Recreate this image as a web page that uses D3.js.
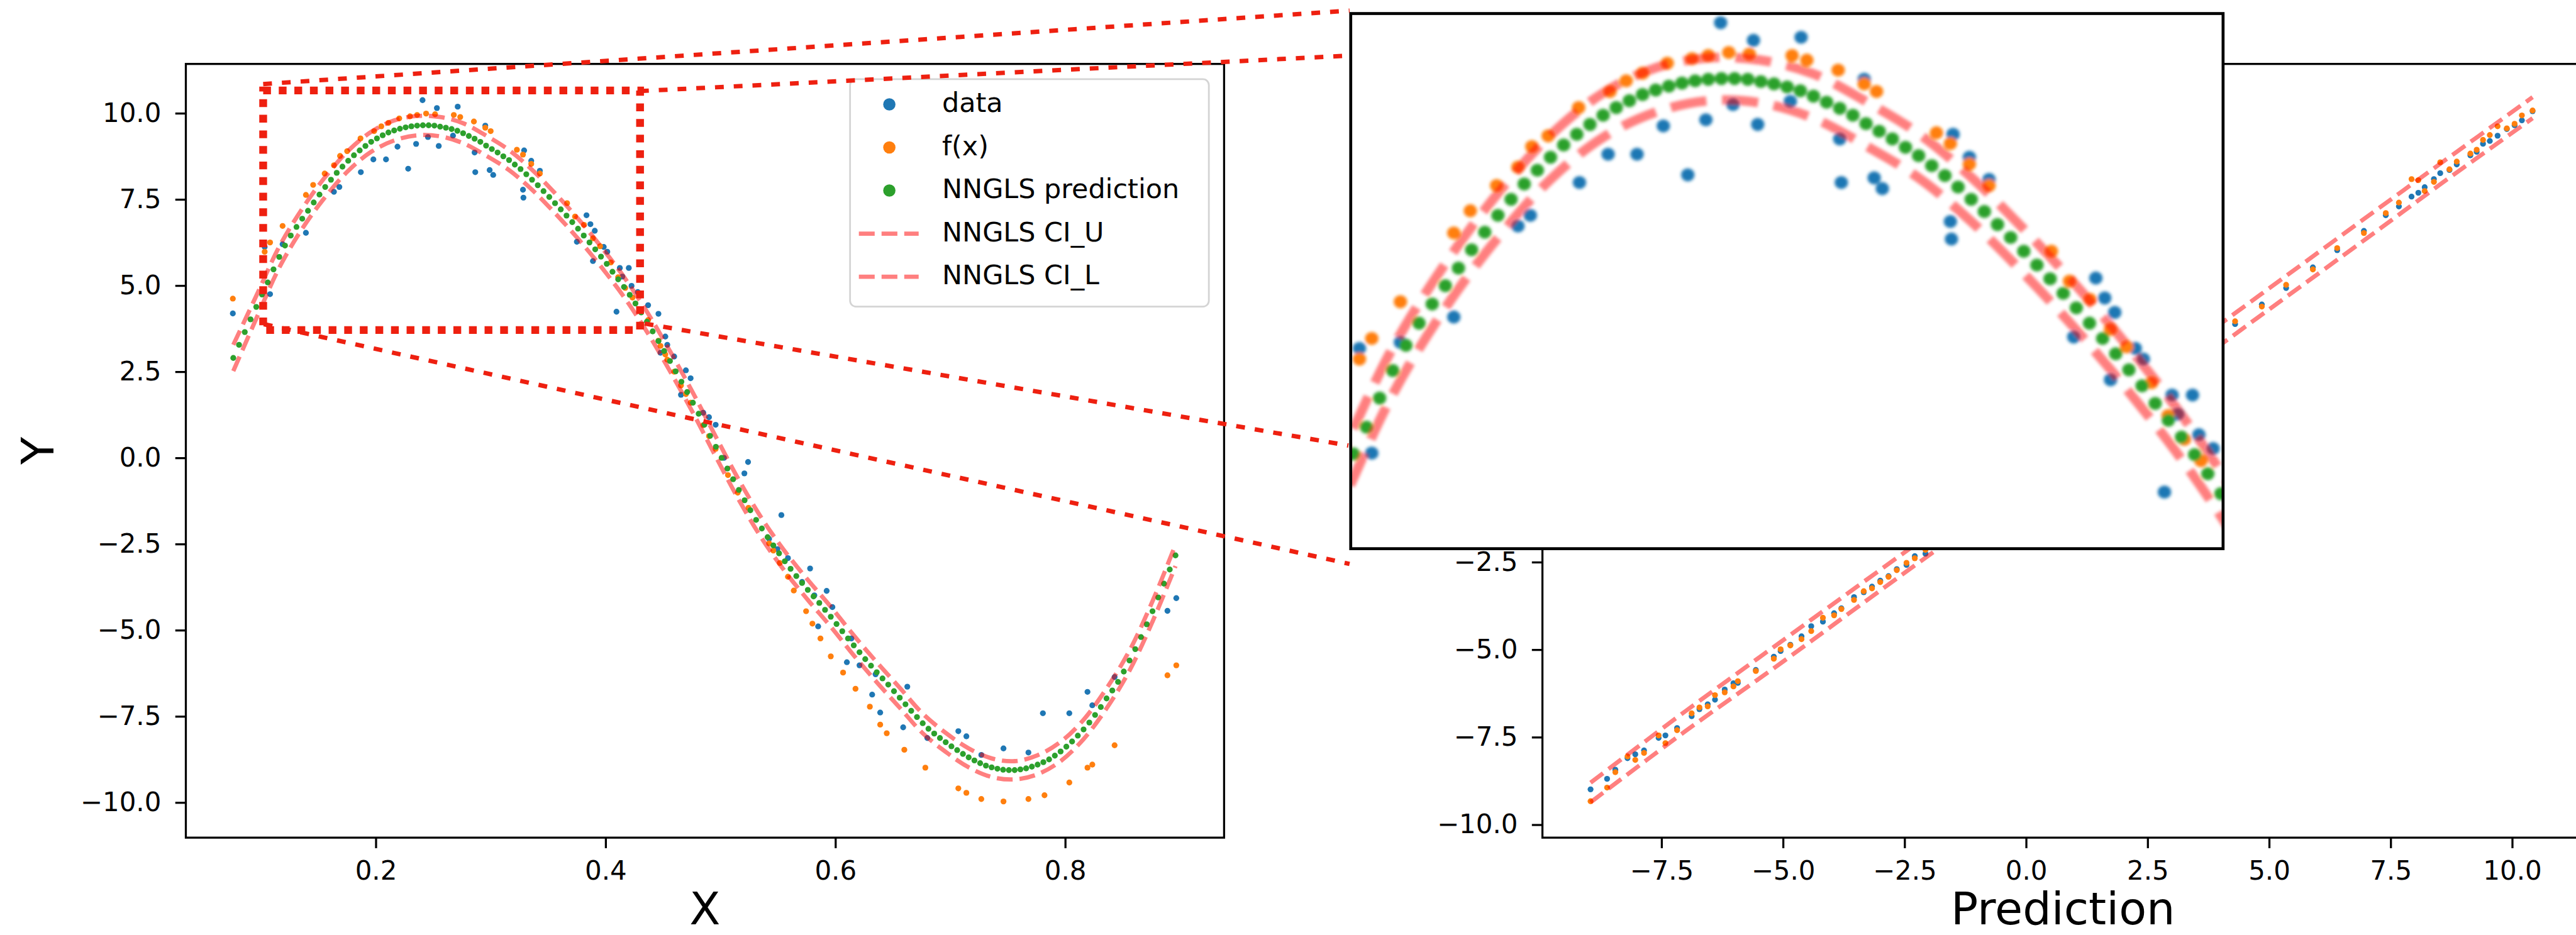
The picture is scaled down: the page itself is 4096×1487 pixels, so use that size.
<!DOCTYPE html>
<html>
<head>
<meta charset="utf-8">
<script src="https://cdn.jsdelivr.net/npm/d3@7"></script>
<style>
  body { margin: 0; background: #fff; overflow: hidden; }
  svg { display: block; }
  text { font-family: "DejaVu Sans", sans-serif; fill: #000; }
</style>
</head>
<body>
<svg id="chart"></svg>
<script>
// ---- left panel: training points (data and f(x) share the same x locations roughly)
const dataX = [0.0756, 0.1033, 0.108, 0.1189, 0.1392, 0.1636, 0.1683, 0.1870, 0.1979, 0.2089, 0.2189, 0.2282, 0.2351, 0.2407, 0.2454, 0.2532, 0.2548, 0.2672, 0.2713, 0.2860, 0.2866, 0.2953, 0.2991, 0.3022, 0.3281, 0.3285, 0.3291, 0.3353, 0.3428, 0.3750, 0.3834, 0.3868, 0.3890, 0.3906, 0.3984, 0.4015, 0.4095, 0.4124, 0.4146, 0.4202, 0.4226, 0.4280, 0.4370, 0.4460, 0.4478, 0.4520, 0.4537, 0.4597, 0.4656, 0.4699, 0.4740, 0.4850, 0.4900, 0.4958, 0.5030, 0.5208, 0.5240, 0.5423, 0.5495, 0.5530, 0.5587, 0.5710, 0.5780, 0.5817, 0.5850, 0.5924, 0.5974, 0.6100, 0.6139, 0.6210, 0.6320, 0.6350, 0.6390, 0.6590, 0.6626, 0.6800, 0.7070, 0.7140, 0.7270, 0.7463, 0.7680, 0.7806, 0.8036, 0.8194, 0.8236, 0.8430, 0.8890, 0.8967];
const dataY = [4.19, 6.12, 4.75, 6.20, 6.53, 7.72, 7.86, 8.29, 8.66, 8.66, 9.03, 8.39, 9.11, 10.38, 9.31, 10.15, 9.05, 9.35, 10.19, 8.86, 8.29, 9.64, 8.35, 8.21, 7.78, 7.55, 8.92, 8.62, 8.33, 6.27, 7.04, 6.78, 5.71, 6.59, 6.12, 5.98, 4.24, 5.51, 5.26, 5.51, 4.99, 4.81, 4.43, 4.18, 3.05, 3.52, 3.28, 2.94, 1.83, 2.54, 2.31, 1.31, 1.18, 0.96, 0.00, -0.45, -0.12, -2.35, -2.65, -1.66, -2.91, -3.60, -3.21, -3.99, -4.89, -3.86, -4.33, -5.93, -5.24, -6.02, -6.87, -6.28, -7.39, -7.82, -6.64, -8.13, -7.93, -8.08, -8.62, -8.43, -8.55, -7.41, -7.41, -6.79, -7.18, -6.36, -4.44, -4.07];

const fxX = [0.0756, 0.1033, 0.108, 0.1189, 0.1392, 0.1455, 0.1555, 0.1636, 0.1689, 0.1751, 0.1867, 0.1986, 0.2048, 0.2110, 0.2204, 0.2298, 0.2360, 0.2438, 0.2516, 0.2679, 0.2735, 0.2854, 0.2953, 0.3000, 0.3228, 0.3281, 0.3353, 0.3428, 0.3665, 0.3734, 0.3812, 0.3890, 0.3952, 0.4046, 0.4109, 0.4171, 0.4234, 0.4370, 0.4460, 0.4478, 0.4520, 0.4537, 0.4597, 0.4656, 0.4699, 0.4740, 0.4850, 0.4900, 0.4958, 0.5065, 0.5150, 0.5244, 0.5423, 0.5460, 0.5516, 0.5587, 0.5638, 0.5745, 0.5800, 0.5870, 0.5960, 0.6067, 0.6175, 0.6300, 0.6390, 0.6447, 0.6600, 0.6783, 0.7070, 0.7140, 0.7270, 0.7463, 0.7680, 0.7820, 0.8036, 0.8194, 0.8236, 0.8430, 0.8890, 0.8967];
const fxY = [4.62, 5.98, 6.25, 6.73, 7.63, 7.92, 8.25, 8.49, 8.76, 8.90, 9.27, 9.48, 9.62, 9.72, 9.85, 9.91, 9.95, 9.99, 9.97, 9.95, 9.89, 9.76, 9.58, 9.48, 8.94, 8.80, 8.53, 8.25, 7.39, 7.00, 6.76, 6.37, 6.14, 5.67, 5.24, 4.93, 4.65, 4.00, 3.40, 3.25, 3.00, 2.85, 2.50, 2.10, 1.85, 1.60, 0.95, 0.63, 0.26, -0.50, -1.01, -1.45, -2.48, -2.69, -3.05, -3.45, -3.85, -4.45, -4.81, -5.24, -5.76, -6.23, -6.70, -7.22, -7.74, -7.99, -8.47, -8.99, -9.59, -9.72, -9.90, -9.97, -9.90, -9.79, -9.42, -8.99, -8.90, -8.34, -6.31, -6.02];

// ---- left panel: NNGLS prediction points
const predX = [0.076, 0.081, 0.086, 0.091, 0.096, 0.101, 0.106, 0.111, 0.116, 0.121, 0.126, 0.131, 0.136, 0.141, 0.146, 0.151, 0.156, 0.161, 0.166, 0.171, 0.176, 0.181, 0.186, 0.191, 0.196, 0.201, 0.206, 0.211, 0.216, 0.221, 0.226, 0.231, 0.236, 0.241, 0.246, 0.251, 0.256, 0.261, 0.266, 0.271, 0.276, 0.281, 0.286, 0.291, 0.296, 0.301, 0.306, 0.311, 0.316, 0.321, 0.326, 0.331, 0.336, 0.341, 0.346, 0.351, 0.356, 0.361, 0.366, 0.371, 0.376, 0.381, 0.386, 0.391, 0.396, 0.401, 0.406, 0.411, 0.416, 0.421, 0.426, 0.431, 0.436, 0.441, 0.446, 0.451, 0.456, 0.461, 0.466, 0.471, 0.476, 0.481, 0.486, 0.491, 0.496, 0.501, 0.506, 0.511, 0.516, 0.521, 0.526, 0.531, 0.536, 0.541, 0.546, 0.551, 0.556, 0.561, 0.566, 0.571, 0.576, 0.581, 0.586, 0.591, 0.596, 0.601, 0.606, 0.611, 0.616, 0.621, 0.626, 0.631, 0.636, 0.641, 0.646, 0.651, 0.656, 0.661, 0.666, 0.671, 0.676, 0.681, 0.686, 0.691, 0.696, 0.701, 0.706, 0.711, 0.716, 0.721, 0.726, 0.731, 0.736, 0.741, 0.746, 0.751, 0.756, 0.761, 0.766, 0.771, 0.776, 0.781, 0.786, 0.791, 0.796, 0.801, 0.806, 0.811, 0.816, 0.821, 0.826, 0.831, 0.836, 0.841, 0.846, 0.851, 0.856, 0.861, 0.866, 0.871, 0.876, 0.881, 0.886, 0.891, 0.896];
const predY = [2.90, 3.28, 3.65, 4.02, 4.38, 4.74, 5.09, 5.47, 5.83, 6.16, 6.45, 6.70, 6.94, 7.17, 7.41, 7.64, 7.86, 8.07, 8.27, 8.45, 8.62, 8.78, 8.92, 9.05, 9.17, 9.27, 9.36, 9.44, 9.50, 9.55, 9.59, 9.62, 9.64, 9.65, 9.65, 9.64, 9.61, 9.58, 9.54, 9.49, 9.42, 9.34, 9.26, 9.17, 9.06, 8.96, 8.86, 8.75, 8.64, 8.51, 8.38, 8.23, 8.07, 7.91, 7.74, 7.57, 7.39, 7.21, 7.03, 6.84, 6.65, 6.45, 6.25, 6.05, 5.84, 5.63, 5.40, 5.18, 4.96, 4.73, 4.48, 4.22, 3.95, 3.67, 3.39, 3.10, 2.81, 2.51, 2.21, 1.91, 1.60, 1.28, 0.96, 0.64, 0.32, 0.00, -0.31, -0.62, -0.93, -1.23, -1.52, -1.80, -2.05, -2.30, -2.54, -2.77, -3.00, -3.22, -3.43, -3.63, -3.83, -4.02, -4.21, -4.41, -4.61, -4.82, -5.03, -5.24, -5.44, -5.64, -5.84, -6.03, -6.22, -6.40, -6.58, -6.77, -6.96, -7.15, -7.34, -7.52, -7.70, -7.86, -8.00, -8.13, -8.25, -8.37, -8.48, -8.59, -8.69, -8.78, -8.86, -8.93, -8.98, -9.02, -9.05, -9.06, -9.06, -9.04, -9.01, -8.96, -8.90, -8.83, -8.75, -8.64, -8.52, -8.38, -8.23, -8.06, -7.88, -7.68, -7.46, -7.23, -6.98, -6.75, -6.50, -6.20, -5.88, -5.55, -5.20, -4.83, -4.45, -4.05, -3.65, -3.24, -2.83];

// ---- left panel: NNGLS interval bounds
const ciX = [0.076, 0.096, 0.116, 0.136, 0.156, 0.176, 0.196, 0.216, 0.236, 0.256, 0.276, 0.296, 0.316, 0.336, 0.356, 0.376, 0.396, 0.416, 0.436, 0.456, 0.476, 0.496, 0.516, 0.536, 0.556, 0.576, 0.596, 0.616, 0.636, 0.656, 0.676, 0.696, 0.716, 0.736, 0.756, 0.776, 0.796, 0.816, 0.836, 0.856, 0.876, 0.896];
const ciU = [3.28, 4.70, 6.13, 7.23, 8.15, 8.91, 9.46, 9.79, 9.92, 9.89, 9.71, 9.35, 8.93, 8.36, 7.68, 6.94, 6.13, 5.25, 4.24, 3.10, 1.89, 0.61, -0.64, -1.76, -2.71, -3.54, -4.32, -5.15, -5.93, -6.67, -7.42, -7.98, -8.43, -8.72, -8.80, -8.63, -8.24, -7.60, -6.69, -5.59, -4.16, -2.52];
const ciL = [2.52, 4.04, 5.52, 6.65, 7.57, 8.33, 8.88, 9.21, 9.36, 9.33, 9.13, 8.77, 8.35, 7.78, 7.10, 6.36, 5.55, 4.67, 3.66, 2.52, 1.31, 0.03, -1.22, -2.34, -3.29, -4.12, -4.90, -5.73, -6.51, -7.25, -7.99, -8.53, -8.98, -9.26, -9.33, -9.18, -8.80, -8.16, -7.27, -6.17, -4.75, -3.14];

// ---- right panel: values against prediction
const predR = [-8.96, -8.62, -8.45, -8.20, -8.04, -7.86, -7.56, -7.42, -7.18, -6.88, -6.72, -6.55, -6.40, -6.20, -6.02, -5.93, -5.56, -5.19, -5.05, -4.85, -4.62, -4.42, -4.18, -3.95, -3.80, -3.54, -3.34, -3.17, -3.00, -2.83, -2.66, -2.46, -2.29, -2.07, -1.70, -1.20, -0.85, -0.40, 0.10, 0.55, 1.05, 1.40, 1.95, 2.50, 2.95, 3.40, 3.85, 4.30, 4.85, 5.35, 5.90, 6.40, 6.95, 7.40, 7.67, 7.93, 8.07, 8.20, 8.39, 8.52, 8.71, 8.86, 9.14, 9.27, 9.40, 9.54, 9.70, 9.89, 10.05, 10.20, 10.42];
const dataR = [-8.99, -8.69, -8.43, -8.10, -7.99, -7.88, -7.52, -7.45, -7.24, -6.90, -6.70, -6.56, -6.43, -6.14, -5.96, -5.95, -5.58, -5.20, -5.04, -4.86, -4.62, -4.33, -4.20, -3.96, -3.82, -3.50, -3.36, -3.20, -3.03, -2.90, -2.70, -2.58, -2.33, -2.26, -1.72, -1.22, -0.88, -0.41, 0.12, 0.55, 1.03, 1.42, 1.97, 2.48, 2.96, 3.42, 3.83, 4.30, 4.86, 5.33, 5.92, 6.41, 6.96, 7.41, 7.66, 7.94, 8.05, 8.21, 8.44, 8.61, 8.70, 8.86, 9.12, 9.22, 9.45, 9.53, 9.68, 9.87, 9.98, 10.12, 10.38];
const fxR = [-9.33, -8.94, -8.50, -8.05, -8.15, -7.95, -7.45, -7.67, -7.30, -6.82, -6.65, -6.62, -6.30, -6.22, -6.05, -5.90, -5.61, -5.26, -4.99, -4.88, -4.70, -4.47, -4.09, -4.02, -3.84, -3.58, -3.33, -3.25, -3.07, -2.92, -2.73, -2.52, -2.39, -2.15, -1.78, -1.15, -0.95, -0.35, 0.05, 0.62, 0.98, 1.47, 1.90, 2.56, 2.90, 3.48, 3.80, 4.38, 4.80, 5.42, 5.86, 6.47, 6.90, 7.47, 7.77, 8.44, 8.41, 8.10, 8.36, 8.92, 8.72, 8.94, 9.17, 9.28, 9.56, 9.70, 9.95, 9.89, 10.02, 10.26, 10.40];
const ciRX = [-8.96, -7.0, -5.0, -3.0, -1.0, 1.0, 3.0, 5.0, 7.0, 8.5, 10.42];
const ciRU = [-8.80, -6.75, -4.73, -2.72, -0.72, 1.30, 3.30, 5.32, 7.35, 8.86, 10.78];
const ciRL = [-9.36, -7.32, -5.34, -3.31, -1.30, 0.72, 2.70, 4.72, 6.74, 8.27, 10.18];

// ---- ticks / labels
const yTicks = [-10, -7.5, -5, -2.5, 0, 2.5, 5, 7.5, 10];
const xTicksL = [0.2, 0.4, 0.6, 0.8];
const xTicksR = [-7.5, -5, -2.5, 0, 2.5, 5, 7.5, 10];
const legendLabels = ["data", "f(x)", "NNGLS prediction", "NNGLS CI_U", "NNGLS CI_L"];
// zoomed window shown in the inset, and the box marked on the left panel
const insetWin = { x: [0.1, 0.4318], y: [3.5, 10.5] };
const markBox = { x: [0.102, 0.430], y: [3.71, 10.66] };

const col = { blue: "#1f77b4", orange: "#ff7f0e", green: "#2ca02c", ci: "#ff0000", mark: "#ee2010" };

// drawing is done in the reference's pixel space and scaled down by the viewBox
const W = 4394, H = 1595;
const svg = d3.select("#chart")
  .attr("width", 4096).attr("height", 1487)
  .attr("viewBox", `0 0 ${W} ${H}`);

const defs = svg.append("defs");
defs.append("filter").attr("id", "soft")
  .attr("x", "-5%").attr("y", "-5%").attr("width", "110%").attr("height", "110%")
  .append("feGaussianBlur").attr("stdDeviation", 1.3);

const boxL = { x0: 317, x1: 2088, y0: 109, y1: 1429 };
const boxR = { x0: 2631, x1: 4407, y0: 109, y1: 1429 };
const boxI = { x0: 2304, x1: 3792, y0: 23, y1: 936 };

const xL = d3.scaleLinear().domain([0.0347, 0.9383]).range([boxL.x0, boxL.x1]);
const yL = d3.scaleLinear().domain([-11.02, 11.43]).range([boxL.y1, boxL.y0]);
const xR = d3.scaleLinear().domain([-9.95, 11.47]).range([boxR.x0, boxR.x1]);
const yR = d3.scaleLinear().domain([-10.37, 11.73]).range([boxR.y1, boxR.y0]);

const R = 5;          // marker radius
const TICK_FS = 45, LABEL_FS = 77, LEG_FS = 46;
const fmt = d3.format(".1f");

function dots(g, xs, ys, x, y, color) {
  g.append("g").selectAll("circle")
    .data(d3.zip(xs, ys))
    .join("circle")
      .attr("cx", d => x(d[0]))
      .attr("cy", d => y(d[1]))
      .attr("r", R)
      .attr("fill", color);
}

function ciLine(g, xs, ys, x, y) {
  const line = d3.line().x(d => x(d[0])).y(d => y(d[1])).curve(d3.curveCatmullRom);
  g.append("path")
    .attr("d", line(d3.zip(xs, ys)))
    .attr("fill", "none")
    .attr("stroke", col.ci)
    .attr("stroke-opacity", 0.5)
    .attr("stroke-width", 7.3)
    .attr("stroke-dasharray", "27,11.7");
}

function leftMarks(g) {
  dots(g, dataX, dataY, xL, yL, col.blue);
  dots(g, fxX, fxY, xL, yL, col.orange);
  dots(g, predX, predY, xL, yL, col.green);
  ciLine(g, ciX, ciU, xL, yL);
  ciLine(g, ciX, ciL, xL, yL);
}

function axes(g, x, y, box, xt, xlabel) {
  const ax = g.append("g").attr("transform", `translate(0,${box.y1})`)
    .call(d3.axisBottom(x).tickValues(xt).tickFormat(fmt).tickSize(18).tickPadding(22));
  const ay = g.append("g").attr("transform", `translate(${box.x0},0)`)
    .call(d3.axisLeft(y).tickValues(yTicks).tickFormat(fmt).tickSize(18).tickPadding(24));
  [ax, ay].forEach(a => {
    a.select(".domain").remove();
    a.attr("font-size", TICK_FS).attr("font-family", "DejaVu Sans");
    a.selectAll(".tick line").attr("stroke", "#000").attr("stroke-width", 3.5);
  });
  g.append("rect")
    .attr("x", box.x0).attr("y", box.y0)
    .attr("width", box.x1 - box.x0).attr("height", box.y1 - box.y0)
    .attr("fill", "none").attr("stroke", "#000").attr("stroke-width", 3.5);
  g.append("text")
    .attr("x", (box.x0 + box.x1) / 2).attr("y", 1577)
    .attr("text-anchor", "middle").attr("font-size", LABEL_FS)
    .text(xlabel);
}

// ---- right panel (drawn first, the inset sits over it)
const gR = svg.append("g");
dots(gR, predR, dataR, xR, yR, col.blue);
dots(gR, predR, fxR, xR, yR, col.orange);
ciLine(gR, ciRX, ciRU, xR, yR);
ciLine(gR, ciRX, ciRL, xR, yR);
axes(gR, xR, yR, boxR, xTicksR, "Prediction");

// ---- left panel
const gL = svg.append("g");
leftMarks(gL);
axes(gL, xL, yL, boxL, xTicksL, "X");
gL.append("text")
  .attr("transform", `translate(91,${(boxL.y0 + boxL.y1) / 2}) rotate(-90)`)
  .attr("text-anchor", "middle").attr("font-size", LABEL_FS)
  .text("Y");

// legend
const leg = gL.append("g");
leg.append("rect")
  .attr("x", 1450).attr("y", 135).attr("width", 612).attr("height", 388).attr("rx", 10)
  .attr("fill", "#fff").attr("fill-opacity", 0.8)
  .attr("stroke", "#d4d4d4").attr("stroke-width", 3);
legendLabels.forEach((lab, i) => {
  const cy = 178 + i * 73.5;
  if (i < 3) {
    leg.append("circle").attr("cx", 1517).attr("cy", cy).attr("r", 10.5)
      .attr("fill", [col.blue, col.orange, col.green][i]);
  } else {
    leg.append("line").attr("x1", 1465).attr("x2", 1567).attr("y1", cy).attr("y2", cy)
      .attr("stroke", col.ci).attr("stroke-opacity", 0.5)
      .attr("stroke-width", 7.3).attr("stroke-dasharray", "27,11.7");
  }
  leg.append("text").attr("x", 1607).attr("y", cy + 13)
    .attr("font-size", LEG_FS).text(lab);
});

// ---- inset: magnified copy of the marked window
const clip = defs.append("clipPath").attr("id", "insetClip");
clip.append("rect").attr("x", boxI.x0).attr("y", boxI.y0)
  .attr("width", boxI.x1 - boxI.x0).attr("height", boxI.y1 - boxI.y0);
svg.append("rect").attr("x", boxI.x0).attr("y", boxI.y0)
  .attr("width", boxI.x1 - boxI.x0).attr("height", boxI.y1 - boxI.y0)
  .attr("fill", "#fff");
const sx = (boxI.x1 - boxI.x0) / (xL(insetWin.x[1]) - xL(insetWin.x[0]));
const sy = (boxI.y1 - boxI.y0) / (yL(insetWin.y[0]) - yL(insetWin.y[1]));
const gI = svg.append("g").attr("clip-path", "url(#insetClip)")
  .append("g")
  .attr("transform", `translate(${boxI.x0},${boxI.y0}) scale(${sx},${sy}) translate(${-xL(insetWin.x[0])},${-yL(insetWin.y[1])})`)
  .append("g").attr("filter", "url(#soft)");
leftMarks(gI);
svg.append("rect").attr("x", boxI.x0).attr("y", boxI.y0)
  .attr("width", boxI.x1 - boxI.x0).attr("height", boxI.y1 - boxI.y0)
  .attr("fill", "none").attr("stroke", "#000").attr("stroke-width", 5);

// ---- marked box and connector lines
const mx0 = xL(markBox.x[0]), mx1 = xL(markBox.x[1]);
const my0 = yL(markBox.y[1]), my1 = yL(markBox.y[0]);
svg.append("path")
  .attr("d", `M${mx0},${my0}H${mx1}V${my1}H${mx0}Z`)
  .attr("fill", "none").attr("stroke", col.mark)
  .attr("stroke-width", 13.3).attr("stroke-dasharray", "13.3,13.3");

const connectors = [
  [[mx0, my0 - 11], [boxI.x0 - 2, boxI.y0 - 5]],
  [[mx1, my0 + 1], [boxI.x0 - 7, boxI.y0 + 72]],
  [[mx0 + 1, my1 - 10], [boxI.x0 - 2, boxI.y1 + 26]],
  [[mx1 + 8, my1 - 11], [boxI.x0 - 4, boxI.y1 - 176]]
];
svg.append("g").selectAll("line")
  .data(connectors)
  .join("line")
    .attr("x1", d => d[0][0]).attr("y1", d => d[0][1])
    .attr("x2", d => d[1][0]).attr("y2", d => d[1][1])
    .attr("stroke", col.mark).attr("stroke-width", 7.5)
    .attr("stroke-dasharray", "15,17");
</script>
</body>
</html>
